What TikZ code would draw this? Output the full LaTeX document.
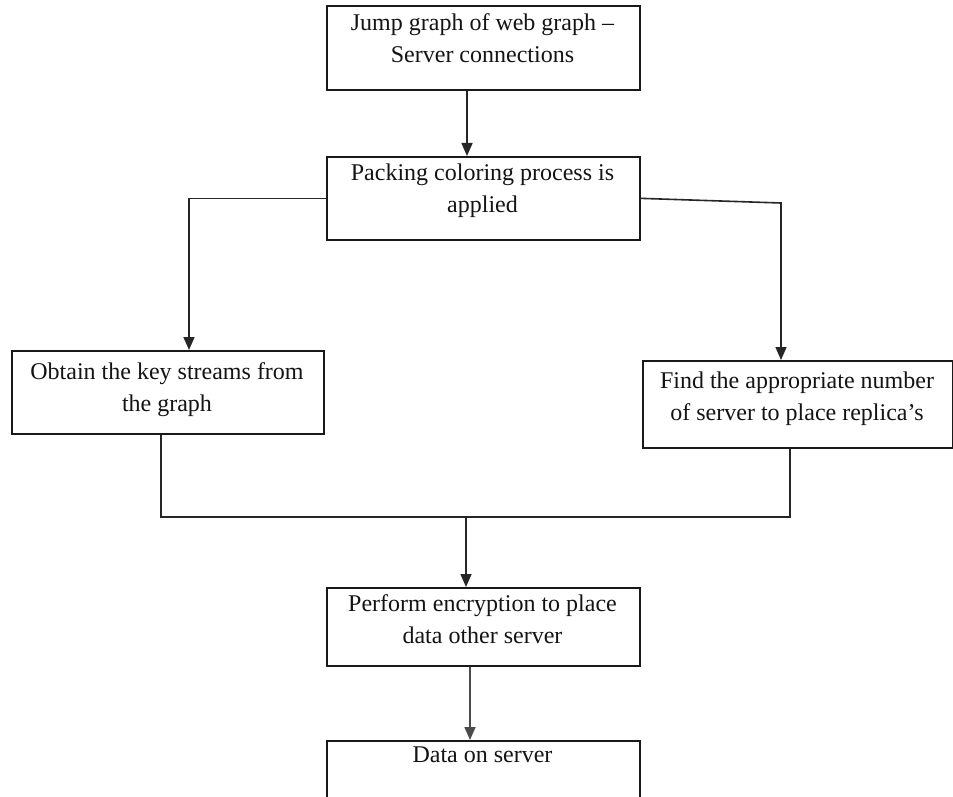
\documentclass[tikz,border=0pt]{standalone}
\usepackage{fontspec}
\setmainfont{Liberation Serif}
\usetikzlibrary{arrows.meta}
\begin{document}
\begin{tikzpicture}[x=1pt,y=-1pt,
  box/.style={draw=black!90, line width=1.7pt, rectangle, inner sep=0pt, anchor=north west},
  txt/.style={anchor=north, inner sep=0pt, align=center, text=black!92, font=\fontsize{24}{32}\selectfont},
  conn/.style={line width=1.6pt, draw=black!85},
  arr/.style={conn, -{Triangle[width=11pt,length=13pt]}}]
\useasboundingbox (0,0) rectangle (953,797);
\fill[white] (0,0) rectangle (953,797);

% boxes
\node[box, minimum width=313pt, minimum height=84pt] (b1) at (326,5) {};
\node[box, minimum width=313pt, minimum height=83pt] (b2) at (326,156) {};
\node[box, minimum width=312pt, minimum height=83pt] (b3) at (11,350) {};
\node[box, minimum width=310pt, minimum height=87pt] (b4) at (642,360) {};
\node[box, minimum width=313pt, minimum height=78pt] (b5) at (326,587) {};
\node[box, minimum width=313pt, minimum height=80pt] (b6) at (326,740) {};

% texts
\node[txt] (t1) at (482.5,13) {Jump graph of web graph –\\Server connections};
\node[txt] (t2) at (482.5,164) {Packing coloring process is\\applied};
\node[txt] (t3) at (167,362) {Obtain the key streams from\\the graph};
\node[txt] (t4) at (797,372) {Find the appropriate number\\of server to place replica’s};
\node[txt] (t5) at (482.5,594) {Perform encryption to place\\data other server};
\node[txt] (t6) at (482.5,747) {Data on server};

% helper coordinates
\coordinate (xa) at (467,0);
\coordinate (xL) at (189,0);
\coordinate (rk) at (781,203);
\coordinate (xBL) at (161,0);
\coordinate (xBR) at (790,0);
\coordinate (j) at (466,517);
\coordinate (xD) at (470,0);

% connectors
\draw[arr] (b1.south -| xa) -- (b2.north -| xa);
\draw[arr] (b2.west) -| (b3.north -| xL);
\draw[arr] (b2.east) -- (rk) -- (b4.north -| rk);
\draw[conn] (b3.south -| xBL) -- (xBL |- j) -- (xBR |- j) -- (b4.south -| xBR);
\draw[arr] (j) -- (b5.north -| j);
\draw[arr, draw=black!70] (b5.south -| xD) -- (b6.north -| xD);
\end{tikzpicture}
\end{document}
